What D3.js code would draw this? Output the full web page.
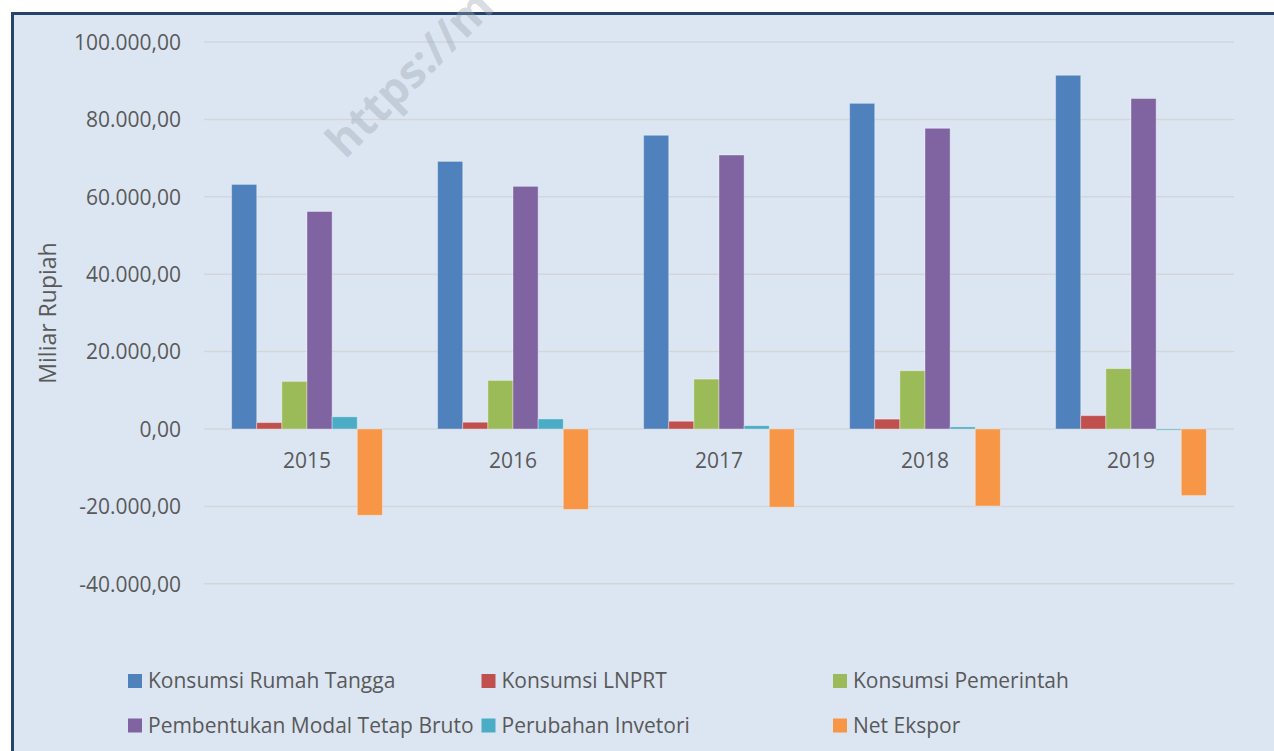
<!DOCTYPE html>
<html>
<head>
<meta charset="utf-8">
<script src="https://cdn.jsdelivr.net/npm/d3@7"></script>
<style>
  html, body { margin: 0; padding: 0; background: #ffffff; }
  svg { display: block; }
  text { font-family: "Open Sans", "Noto Sans", sans-serif; }
</style>
</head>
<body>
<svg id="chart" width="1274" height="751"></svg>
<script>
const years = ["2015", "2016", "2017", "2018", "2019"];
const seriesNames = ["Konsumsi Rumah Tangga", "Konsumsi LNPRT", "Konsumsi Pemerintah",
                     "Pembentukan Modal Tetap Bruto", "Perubahan Invetori", "Net Ekspor"];
const rumahTangga = [63200, 69150, 75900, 84150, 91400];
const lnprt       = [1650, 1750, 2000, 2550, 3450];
const pemerintah  = [12300, 12550, 12900, 15050, 15600];
const pmtb        = [56200, 62700, 70800, 77700, 85400];
const inventori   = [3150, 2600, 850, 550, -300];
const netEkspor   = [-22300, -20800, -20200, -19900, -17200];
const seriesValues = [rumahTangga, lnprt, pemerintah, pmtb, inventori, netEkspor];
const yTicks = [-40000, -20000, 0, 20000, 40000, 60000, 80000, 100000];
const colors = ["#4f81bd", "#c0504d", "#9bbb59", "#8064a2", "#4bacc6", "#f79646"];

const svg = d3.select("#chart");
const fmt = v => {
  const s = d3.format(",.2f")(v);
  return s.replace(/,/g, "#").replace(".", ",").replace(/#/g, ".").replace("−", "-");
};

// chart frame
svg.append("rect")
  .attr("x", 12.5).attr("y", 13.5)
  .attr("width", 1300).attr("height", 800)
  .attr("fill", "#dce6f2")
  .attr("stroke", "#26446a").attr("stroke-width", 3);

const plotLeft = 204, plotRight = 1234;
const y = d3.scaleLinear().domain([-40000, 100000]).range([583.8, 42]);
const x0 = d3.scaleBand().domain(years).range([plotLeft, plotRight]).padding(0);
const bw = x0.bandwidth();
const innerPad = bw * 0.134;
const x1 = d3.scaleBand().domain(d3.range(seriesNames.length)).range([innerPad, bw - innerPad]).padding(0);

// gridlines
svg.append("g").selectAll("line").data(yTicks).join("line")
  .attr("x1", plotLeft).attr("x2", plotRight)
  .attr("y1", d => y(d)).attr("y2", d => y(d))
  .attr("stroke", "#d2d6db").attr("stroke-width", 1.5);

// y axis labels
const yAxis = d3.axisLeft(y).tickValues(yTicks).tickFormat(fmt).tickSize(0).tickPadding(0);
const gy = svg.append("g").attr("transform", "translate(181,0)").call(yAxis);
gy.select(".domain").remove();
gy.selectAll("text")
  .attr("fill", "#595959")
  .style("font-size", "21px")
  .style("font-family", "'Open Sans', sans-serif")
  .attr("dy", "0.35em");

// axis title
svg.append("text")
  .attr("transform", "translate(56,313) rotate(-90)")
  .attr("text-anchor", "middle")
  .attr("fill", "#595959")
  .style("font-size", "23px")
  .text("Miliar Rupiah");

// bars
const groups = svg.append("g").selectAll("g").data(years).join("g")
  .attr("transform", d => `translate(${x0(d)},0)`);
groups.selectAll("rect")
  .data((d, i) => seriesValues.map((vals, s) => ({ s, v: vals[i] })))
  .join("rect")
  .attr("x", d => x1(d.s))
  .attr("width", x1.bandwidth())
  .attr("y", d => Math.min(y(d.v), y(0)))
  .attr("height", d => Math.abs(y(d.v) - y(0)))
  .attr("fill", d => colors[d.s])
  .attr("stroke", "rgba(255,255,255,0.35)")
  .attr("stroke-width", 1);

// category labels
const xAxis = d3.axisBottom(x0).tickSize(0).tickPadding(0);
const gx = svg.append("g").attr("transform", `translate(0,${y(0)})`).call(xAxis);
gx.select(".domain").remove();
gx.selectAll("text")
  .attr("fill", "#595959")
  .style("font-size", "21px")
  .style("font-family", "'Open Sans', sans-serif")
  .attr("y", 39).attr("dy", 0);

// legend
const legendPos = [
  [128, 681], [481.5, 681], [833, 681],
  [128, 725.5], [481.5, 725.5], [833, 725.5]
];
const lg = svg.append("g").selectAll("g").data(seriesNames).join("g")
  .attr("transform", (d, i) => `translate(${legendPos[i][0]},${legendPos[i][1]})`);
lg.append("rect").attr("x", 0).attr("y", -7).attr("width", 14).attr("height", 14)
  .attr("fill", (d, i) => colors[i]);
lg.append("text").attr("x", 20).attr("y", 0).attr("dy", "0.35em")
  .attr("fill", "#595959").style("font-size", "21px").text(d => d);

// watermark
svg.append("text")
  .attr("transform", "translate(345,160) rotate(-45)")
  .attr("fill", "#9aa4b1").attr("fill-opacity", 0.4)
  .style("font-size", "45px").style("font-weight", "bold")
  .text("https://m");
</script>
</body>
</html>
